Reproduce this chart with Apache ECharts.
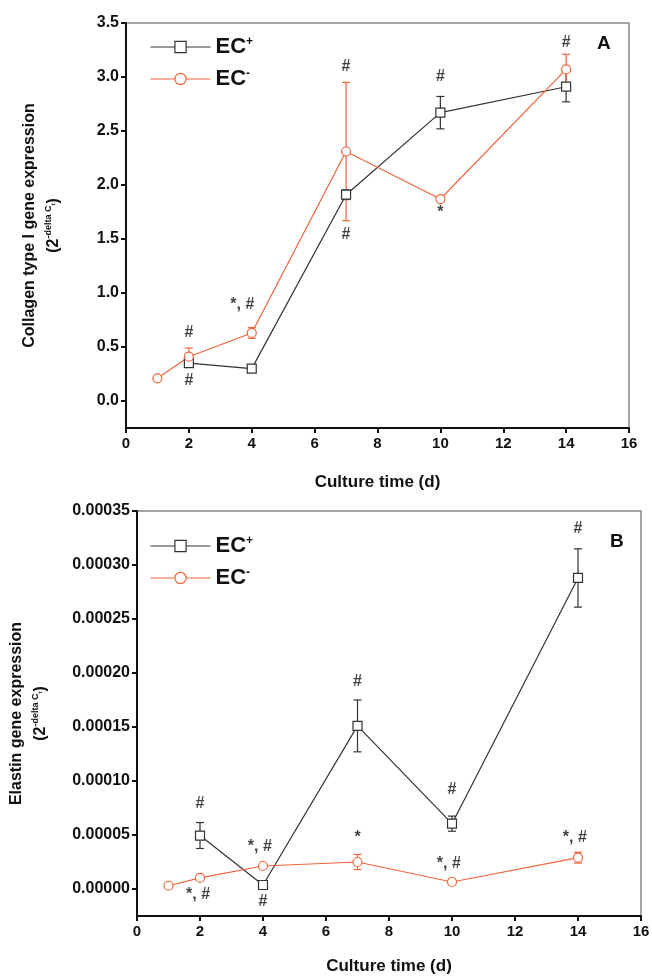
<!DOCTYPE html>
<html>
<head>
<meta charset="utf-8">
<script src="https://cdn.jsdelivr.net/npm/echarts@6/dist/echarts.min.js"></script>
<style>
html, body { margin: 0; background: #fff; }
#chart { width: 652px; height: 979px; }
</style>
</head>
<body>
<div id="chart"></div>
<script>
// 培养时间 (d)
const daysPlus = [2, 4, 7, 10, 14]
const daysMinus = [1, 2, 4, 7, 10, 14]

// A: Collagen type I
const colPlus = [0.35, 0.30, 1.91, 2.67, 2.91]
const colPlusErr = [0.02, 0.01, 0.045, 0.15, 0.14]
const colMinus = [0.21, 0.41, 0.63, 2.31, 1.87, 3.07]
const colMinusErr = [0.02, 0.08, 0.05, 0.64, 0.02, 0.14]
const colMarks = [
  [2, 0.63, '#'], [2, 0.19, '#'], [3.7, 0.89, '*, #'],
  [7, 3.10, '#'], [7, 1.54, '#'], [10, 3.00, '#'], [10, 1.74, '*'], [14, 3.32, '#']
]
const colTicks = [0, 0.5, 1.0, 1.5, 2.0, 2.5, 3.0, 3.5]

// B: Elastin
const elaPlus = [0.0000495, 0.0000037, 0.000151, 0.0000605, 0.000288]
const elaPlusErr = [0.000012, 0.000002, 0.000024, 0.000007, 0.000027]
const elaMinus = [0.0000030, 0.0000103, 0.0000213, 0.000025, 0.0000065, 0.0000290]
const elaMinusErr = [0.000002, 0.000002, 0.000002, 0.000007, 0.000002, 0.000005]
const elaMarks = [
  [2, 0.0000787, '#'], [1.94, -0.000005, '*, #'], [3.9, 0.000039, '*, #'], [4, -0.000012, '#'],
  [7, 0.000192, '#'], [7, 0.0000472, '*'], [10, 0.0000917, '#'], [9.9, 0.0000231, '*, #'],
  [14, 0.000334, '#'], [13.9, 0.0000472, '*, #']
]
const elaTicks = [0, 0.00005, 0.0001, 0.00015, 0.0002, 0.00025, 0.0003, 0.00035]

const BLACK = '#333'
const RED = '#f0643c'
const FONT = 'Liberation Sans'

function pairs (xs, ys) {
  return xs.map((x, i) => [x, ys[i]])
}
function errs (xs, ys, es) {
  return xs.map((x, i) => [x, ys[i] - es[i], ys[i] + es[i]])
}

// 误差线
function errRender (color) {
  return function (params, api) {
    const x = api.value(0)
    const lo = api.coord([x, api.value(1)])
    const hi = api.coord([x, api.value(2)])
    const w = 4
    const style = { stroke: color, lineWidth: 1.2 }
    return {
      type: 'group',
      children: [
        { type: 'line', shape: { x1: lo[0], y1: lo[1], x2: hi[0], y2: hi[1] }, style },
        { type: 'line', shape: { x1: lo[0] - w, y1: lo[1], x2: lo[0] + w, y2: lo[1] }, style },
        { type: 'line', shape: { x1: hi[0] - w, y1: hi[1], x2: hi[0] + w, y2: hi[1] }, style }
      ]
    }
  }
}

function xAxisOf (idx, gap) {
  return {
    type: 'value', gridIndex: idx, min: 0, max: 16, interval: 2,
    name: 'Culture time (d)', nameLocation: 'middle', nameGap: gap,
    nameTextStyle: { fontFamily: FONT, fontWeight: 'bold', fontSize: 17, color: '#111' },
    axisLine: { onZero: false, lineStyle: { color: '#111', width: 2 } },
    axisTick: { length: 5, lineStyle: { color: '#111', width: 2 } },
    axisLabel: { fontFamily: FONT, fontWeight: 'bold', fontSize: 15, color: '#111', margin: 8 },
    splitLine: { show: false }
  }
}

function yAxisOf (idx, min, max, ticks, digits, line1, gap) {
  return {
    type: 'value', gridIndex: idx, min: min, max: max,
    name: '{t|' + line1 + '}\n{t|(2}{s|-delta C}{u|t}{t|)}',
    nameLocation: 'middle', nameGap: gap,
    nameTextStyle: {
      fontFamily: FONT, fontWeight: 'bold', color: '#111',
      rich: {
        t: { fontFamily: FONT, fontWeight: 'bold', fontSize: 16, lineHeight: 24, color: '#111' },
        s: { fontFamily: FONT, fontWeight: 'bold', fontSize: 9, lineHeight: 24, verticalAlign: 'top', padding: [2, 0, 0, 0], color: '#111' },
        u: { fontFamily: FONT, fontWeight: 'bold', fontSize: 6, lineHeight: 24, verticalAlign: 'top', padding: [8, 0, 0, 0], color: '#111' }
      }
    },
    axisLine: { onZero: false, lineStyle: { color: '#111', width: 2 } },
    axisTick: { length: 5, customValues: ticks, lineStyle: { color: '#111', width: 2 } },
    axisLabel: {
      customValues: ticks, fontFamily: FONT, fontWeight: 'bold', fontSize: 16, color: '#111', margin: 7,
      formatter: v => v.toFixed(digits)
    },
    splitLine: { show: false }
  }
}

function lineSeries (name, idx, data, color, symbol) {
  return {
    name: name, type: 'line', xAxisIndex: idx, yAxisIndex: idx, data: data,
    symbol: symbol, symbolSize: 9, z: 5,
    lineStyle: { color: color, width: 1.2 },
    itemStyle: { color: '#fff', borderColor: color, borderWidth: 1.2 }
  }
}

function errSeries (idx, data, color) {
  return {
    type: 'custom', xAxisIndex: idx, yAxisIndex: idx, data: data, z: 3,
    renderItem: errRender(color), silent: true
  }
}

function markSeries (idx, data) {
  return {
    type: 'scatter', xAxisIndex: idx, yAxisIndex: idx, data: data, z: 6,
    symbolSize: 1, itemStyle: { color: 'rgba(0,0,0,0)' },
    label: {
      show: true, position: 'inside', formatter: p => p.data[2],
      fontFamily: FONT, fontWeight: 'bold', fontSize: 16, color: '#111'
    }
  }
}

function legendOf (idx, top) {
  return {
    orient: 'vertical', left: 145, top: top, itemWidth: 60, itemHeight: 14, itemGap: 10,
    data: ['EC+', 'EC-'],
    lineStyle: { width: 1 },
    itemStyle: { borderWidth: 1.2 },
    formatter: n => '{b|EC}{s|' + n.slice(2) + '}',
    textStyle: {
      rich: {
        b: { fontFamily: FONT, fontWeight: 'bold', fontSize: 22, color: '#111' },
        s: { fontFamily: FONT, fontWeight: 'bold', fontSize: 12, verticalAlign: 'top', color: '#111' }
      }
    }
  }
}

const chart = echarts.init(document.getElementById('chart'))
chart.setOption({
  animation: false,
  backgroundColor: '#fff',
  grid: [
    { left: 126, right: 23, top: 23, bottom: 551, show: true, borderColor: '#888', borderWidth: 1.5, outerBoundsMode: 'none' },
    { left: 137, right: 11, top: 511, bottom: 63, show: true, borderColor: '#888', borderWidth: 1.5, outerBoundsMode: 'none' }
  ],
  legend: [legendOf(0, 31), legendOf(1, 530)],
  xAxis: [xAxisOf(0, 46), xAxisOf(1, 42)],
  yAxis: [
    yAxisOf(0, -0.25, 3.5, colTicks, 1, 'Collagen type I gene expression', 60),
    yAxisOf(1, -0.000025, 0.00035, elaTicks, 5, 'Elastin gene expression', 84)
  ],
  graphic: [
    { type: 'text', left: 597, top: 34, style: { text: 'A', fontFamily: FONT, fontWeight: 'bold', fontSize: 19, fill: '#111' } },
    { type: 'text', left: 610, top: 532, style: { text: 'B', fontFamily: FONT, fontWeight: 'bold', fontSize: 19, fill: '#111' } }
  ],
  series: [
    errSeries(0, errs(daysPlus, colPlus, colPlusErr), BLACK),
    errSeries(0, errs(daysMinus, colMinus, colMinusErr), RED),
    lineSeries('EC+', 0, pairs(daysPlus, colPlus), BLACK, 'rect'),
    lineSeries('EC-', 0, pairs(daysMinus, colMinus), RED, 'circle'),
    markSeries(0, colMarks),
    errSeries(1, errs(daysPlus, elaPlus, elaPlusErr), BLACK),
    errSeries(1, errs(daysMinus, elaMinus, elaMinusErr), RED),
    lineSeries('EC+', 1, pairs(daysPlus, elaPlus), BLACK, 'rect'),
    lineSeries('EC-', 1, pairs(daysMinus, elaMinus), RED, 'circle'),
    markSeries(1, elaMarks)
  ]
})
</script>
</body>
</html>
